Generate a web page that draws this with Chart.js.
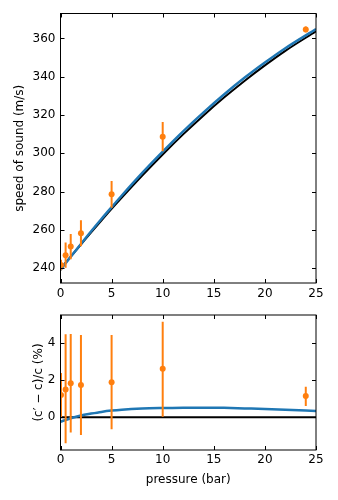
<!DOCTYPE html>
<html>
<head>
<meta charset="utf-8">
<script src="https://cdn.jsdelivr.net/npm/chart.js@4.4.1/dist/chart.umd.min.js"></script>
<style>
  body { margin: 0; background: #fff; }
  .wrap { position: absolute; left: 0; }
  canvas { display: block; }
</style>
</head>
<body>
<div class="wrap" style="top:0"><canvas id="top" width="338" height="300"></canvas></div>
<div class="wrap" style="top:300px"><canvas id="bottom" width="338" height="200"></canvas></div>
<script>
// measured points (pressure in bar)
const pressure = [0.05, 0.5, 1, 2, 5, 10, 24]
const speedMeas = [241.7, 246.8, 251.3, 258.3, 278.6, 308.7, 364.7]
const speedErr = [2.8, 6.6, 6.6, 6.8, 7.0, 7.6, 1.5]
const resid = [1.2, 1.5, 1.84, 1.75, 1.89, 2.63, 1.15]
const residLo = [0.0, -1.4, -0.83, -0.96, -0.65, 0.03, 0.61]
const residHi = [2.4, 4.49, 4.5, 4.45, 4.45, 5.17, 1.65]

// curves
const curveP = [0, 1, 2, 3, 4, 5, 6, 8, 10, 12, 14, 16, 18, 20, 22, 25]
const modelSpeed = [239.7, 246.1, 252.4, 258.7, 264.9, 271.0, 276.9, 288.4, 299.4, 309.9, 319.8, 329.1, 337.8, 345.9, 353.5, 363.7]
const fitSpeed = [239.1, 246.0, 252.7, 259.3, 265.7, 271.9, 278.0, 289.8, 300.9, 311.5, 321.4, 330.7, 339.4, 347.4, 354.9, 364.9]
const fitResid = [-0.24, -0.05, 0.1, 0.2, 0.29, 0.36, 0.41, 0.47, 0.5, 0.52, 0.52, 0.51, 0.48, 0.45, 0.41, 0.34]
const zeroP = [0, 25]
const zeroV = [0, 0]

// ticks
const xTicks = [0, 5, 10, 15, 20, 25]
const yTicksTop = [240, 260, 280, 300, 320, 340, 360]
const yTicksBottom = [0, 2, 4]

const ORANGE = '#ff7f0e'
const BLUE = '#1f77b4'

Chart.defaults.font.family = 'DejaVu Sans'
Chart.defaults.font.size = 12
Chart.defaults.color = '#000'

function pts(xs, ys){
    return xs.map((x,i) => ({x: x, y: ys[i]}))
}

function errSegs(xs, lo, hi){
    let out = []
    xs.forEach((x,i) => {
        out.push({x: x, y: lo[i]})
        out.push({x: x, y: hi[i]})
        out.push({x: x, y: null})
    })
    return out
}

// frame + inward ticks on all four sides
const frameTicks = {
    id: 'frameTicks',
    afterDatasetsDraw(chart){
        const {ctx, chartArea: a, scales: {x, y}} = chart
        ctx.save()
        ctx.strokeStyle = '#000'
        ctx.lineWidth = 1
        ctx.strokeRect(a.left, a.top, a.right - a.left, a.bottom - a.top)
        const len = 4
        ctx.beginPath()
        x.ticks.forEach(t => {
            let px = Math.round(x.getPixelForValue(t.value)) + 0.5
            ctx.moveTo(px, a.bottom); ctx.lineTo(px, a.bottom - len)
            ctx.moveTo(px, a.top); ctx.lineTo(px, a.top + len)
        })
        y.ticks.forEach(t => {
            let py = Math.round(y.getPixelForValue(t.value)) + 0.5
            ctx.moveTo(a.left, py); ctx.lineTo(a.left + len, py)
            ctx.moveTo(a.right, py); ctx.lineTo(a.right - len, py)
        })
        ctx.stroke()
        ctx.restore()
    }
}

function xScale(height, pad, title){
    return {
        type: 'linear',
        min: 0, max: 25,
        grid: {display: false, drawTicks: false},
        border: {display: false},
        afterBuildTicks: s => { s.ticks = xTicks.map(v => ({value: v})) },
        afterFit: s => { s.height = height },
        ticks: {padding: pad, maxRotation: 0},
        title: title
    }
}

function yScale(min, max, tickVals, title){
    return {
        type: 'linear',
        min: min, max: max,
        grid: {display: false, drawTicks: false},
        border: {display: false},
        afterBuildTicks: s => { s.ticks = tickVals.map(v => ({value: v})) },
        afterFit: s => { s.width = 60.5 },
        ticks: {padding: 5},
        title: title
    }
}

const common = {
    responsive: false,
    animation: false,
    plugins: {legend: {display: false}, tooltip: {enabled: false}},
    elements: {point: {radius: 0}}
}

new Chart(document.getElementById('top'), {
    type: 'line',
    data: {
        datasets: [
            {data: pts(pressure, speedMeas), showLine: false, pointRadius: 3, pointBackgroundColor: ORANGE, pointBorderWidth: 0, clip: 0},
            {data: errSegs(pressure, speedMeas.map((v,i) => v - speedErr[i]), speedMeas.map((v,i) => v + speedErr[i])), borderColor: ORANGE, borderWidth: 2, spanGaps: false, clip: 0},
            {data: pts(curveP, fitSpeed), borderColor: BLUE, borderWidth: 2.5, cubicInterpolationMode: 'monotone', clip: 0},
            {data: pts(curveP, modelSpeed), borderColor: '#000', borderWidth: 2, cubicInterpolationMode: 'monotone', clip: 0}
        ]
    },
    options: {
        ...common,
        layout: {padding: {left: 0, right: 22, top: 13.5, bottom: 0}},
        scales: {
            x: xScale(17, 4, {display: false}),
            y: yScale(232.3, 373, yTicksTop, {display: true, text: 'speed of sound (m/s)', padding: {top: 13, bottom: 0}})
        }
    },
    plugins: [frameTicks]
})

new Chart(document.getElementById('bottom'), {
    type: 'line',
    data: {
        datasets: [
            {data: pts(pressure, resid), showLine: false, pointRadius: 3, pointBackgroundColor: ORANGE, pointBorderWidth: 0, clip: 0},
            {data: errSegs(pressure, residLo, residHi), borderColor: ORANGE, borderWidth: 2, spanGaps: false, clip: 0},
            {data: pts(curveP, fitResid), borderColor: BLUE, borderWidth: 2.5, cubicInterpolationMode: 'monotone', clip: 0},
            {data: pts(zeroP, zeroV), borderColor: '#000', borderWidth: 2, clip: 0}
        ]
    },
    options: {
        ...common,
        layout: {padding: {left: 0, right: 22, top: 15, bottom: 0}},
        scales: {
            x: xScale(50, 3, {display: true, text: 'pressure (bar)', padding: {top: 0, bottom: 12.8}}),
            y: yScale(-1.77, 5.53, yTicksBottom, {display: true, text: '(c\u2032 \u2212 c)/c (%)', padding: {top: 32, bottom: 0}})
        }
    },
    plugins: [frameTicks]
})
</script>
</body>
</html>
